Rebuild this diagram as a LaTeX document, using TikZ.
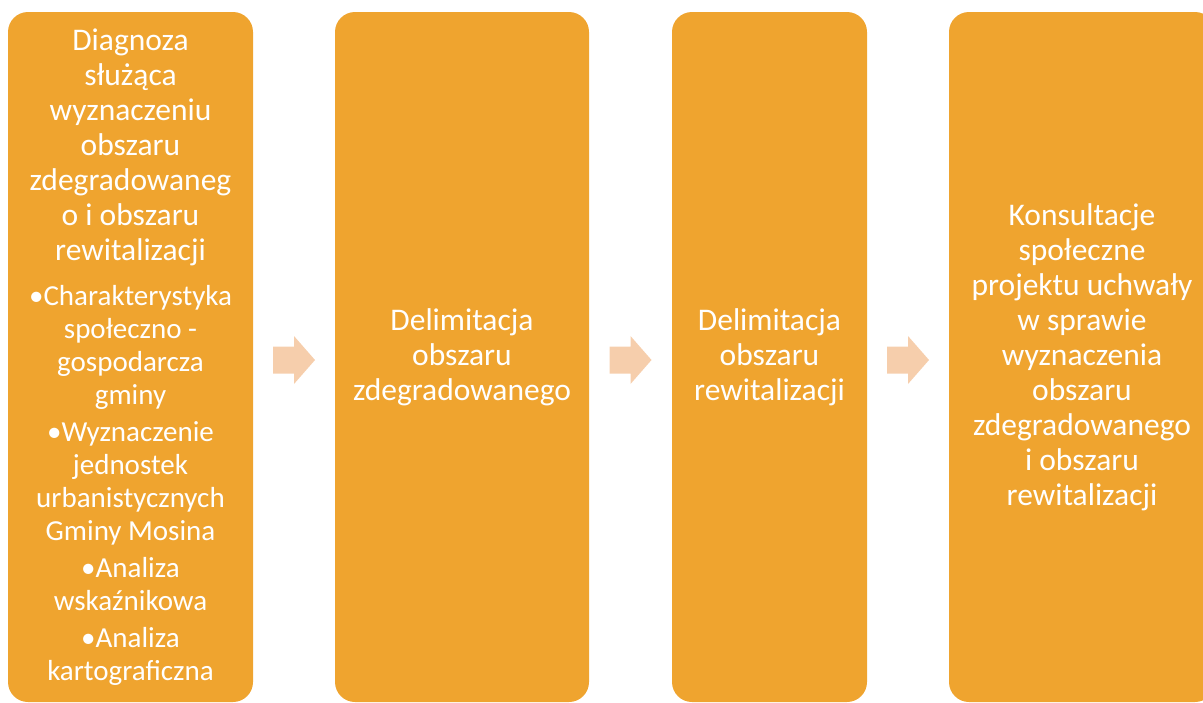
\documentclass[tikz,border=0pt]{standalone}
\usepackage{fontspec}
\setmainfont{Carlito}
\usetikzlibrary{calc}
\definecolor{boxorange}{RGB}{239,164,47}
\definecolor{arrowpeach}{RGB}{246,206,172}
\tikzset{
  stagebox/.style={rectangle, rounded corners=20pt, fill=boxorange, draw=none,
    minimum height=690pt, inner sep=0pt, text=white, align=center,
    font=\fontsize{31.5}{35}\selectfont},
  flowarrow/.style={fill=arrowpeach, draw=none}
}
\newcommand\flowarrowat[1]{%
  \fill[flowarrow] ([shift={(-21,-13.5)}]#1) -- ([shift={(0,-13.5)}]#1) -- ([shift={(0,-24)}]#1)
    -- ([shift={(21,0)}]#1) -- ([shift={(0,24)}]#1) -- ([shift={(0,13.5)}]#1)
    -- ([shift={(-21,13.5)}]#1) -- cycle;}
\begin{document}
\begin{tikzpicture}[x=1pt,y=-1pt]
\useasboundingbox (0,0) rectangle (1203,702);
\clip (0,0) rectangle (1203,702);
\node[stagebox, minimum width=245pt] (b1) at (130.5,357) {\parbox{240pt}{\centering
\fontsize{31.5}{35}\selectfont
Diagnoza\\ służąca\\ wyznaczeniu\\ obszaru\\ zdegradowaneg\\ o i obszaru\\ rewitalizacji\par
\vspace{12pt}\fontsize{29}{33}\selectfont
•Charakterystyka\\ społeczno -\\ gospodarcza\\ gminy\par
\vspace{4pt}
•Wyznaczenie\\ jednostek\\ urbanistycznych\\ Gminy Mosina\par
\vspace{4pt}
•Analiza\\ wskaźnikowa\par
\vspace{4pt}
•Analiza\\ kartograficzna\par}};
\node[stagebox, minimum width=254pt] (b2) at (462,357) {Delimitacja\\ obszaru\\ zdegradowanego};
\node[stagebox, minimum width=195pt] (b3) at (769.5,357) {Delimitacja\\ obszaru\\ rewitalizacji};
\node[stagebox, minimum width=266pt] (b4) at (1082,357) {Konsultacje\\ społeczne\\ projektu uchwały\\ w sprawie\\ wyznaczenia\\ obszaru\\ zdegradowanego\\ i obszaru\\ rewitalizacji};
\coordinate (a1) at ($(b1.east)!0.5!(b2.west)+(0,3)$);
\coordinate (a2) at ($(b2.east)!0.5!(b3.west)+(0,3)$);
\coordinate (a3) at ($(b3.east)!0.5!(b4.west)+(0,3)$);
\flowarrowat{a1}
\flowarrowat{a2}
\flowarrowat{a3}
\end{tikzpicture}
\end{document}
